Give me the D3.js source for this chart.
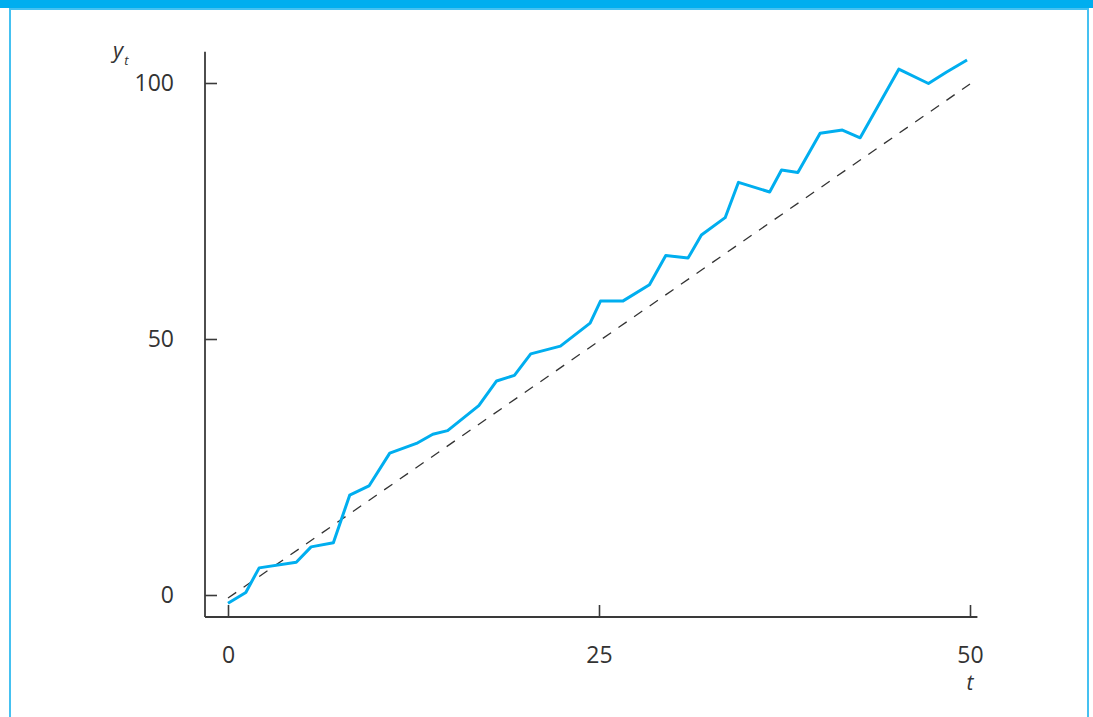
<!DOCTYPE html>
<meta charset="utf-8">
<script src="https://d3js.org/d3.v7.min.js"></script>
<style>
  body { margin: 0; background: #fff; }
  .tick text { font-family: "Open Sans", sans-serif; font-size: 23px; fill: #333; }
</style>
<div id="my_dataviz"></div>
<script>

// random walk with drift (vertices)
var tValues = [0, 1.2, 2.1, 4.6, 5.6, 7.1, 8.2, 9.5, 10.9, 12.7, 13.8, 14.8, 16.9, 18.1, 19.3, 20.4, 22.4, 24.4,
               25.1, 26.6, 28.4, 29.5, 31.0, 31.9, 33.5, 34.4, 36.5, 37.3, 38.4, 39.9, 41.4, 42.6, 45.2, 47.2, 48.4, 49.8];
var yValues = [-1.6, 0.5, 5.3, 6.4, 9.4, 10.2, 19.5, 21.3, 27.7, 29.6, 31.4, 32.1, 37.0, 41.8, 42.9, 47.1, 48.6, 53.1,
               57.4, 57.4, 60.6, 66.3, 65.8, 70.3, 73.7, 80.6, 78.7, 83.0, 82.5, 90.2, 90.8, 89.3, 102.7, 99.9, 102.1, 104.5];

// deterministic trend (dashed)
var trendT = [0, 50];
var trendY = [-0.6, 99.8];

var xTicks = [0, 25, 50];
var yTicks = [0, 50, 100];

// how far the axis lines run (data units)
var xAxisSpan = [-1.55, 50.5];
var yAxisSpan = [-4.3, 106.1];

var W = 1093, H = 717;

var svg = d3.select("#my_dataviz")
  .append("svg")
    .attr("width", W)
    .attr("height", H);

// blue frame of the figure box
svg.append("rect")
  .attr("x", 0).attr("y", 0)
  .attr("width", W).attr("height", 8)
  .attr("fill", "#00aeef");
svg.append("path")
  .attr("d", "M10,717V9H1088V717")
  .attr("fill", "none")
  .attr("stroke", "#45c1f1")
  .attr("stroke-width", 2);

var x = d3.scaleLinear().domain([0, 50]).range([228, 970]);
var y = d3.scaleLinear().domain([0, 100]).range([595, 83]);

var x0 = x(xAxisSpan[0]), y0 = y(yAxisSpan[0]);

// Y axis, ticks pointing inwards
var yAxis = svg.append("g")
  .attr("transform", "translate(" + x0 + ",0)")
  .call(d3.axisLeft(y).tickValues(yTicks).tickSize(-12).tickPadding(31));
// X axis, ticks pointing up
var xAxis = svg.append("g")
  .attr("transform", "translate(0," + y0 + ")")
  .call(d3.axisBottom(x).tickValues(xTicks).tickSize(-12).tickPadding(30));

svg.selectAll(".domain").remove();
svg.selectAll(".tick line").attr("stroke", "#3a3a3a").attr("stroke-width", 1.6);

// axis lines
svg.append("line")
  .attr("x1", x0).attr("x2", x0)
  .attr("y1", y(yAxisSpan[1])).attr("y2", y0)
  .attr("stroke", "#3a3a3a").attr("stroke-width", 1.8);
svg.append("line")
  .attr("x1", x0).attr("x2", x(xAxisSpan[1]))
  .attr("y1", y0).attr("y2", y0)
  .attr("stroke", "#3a3a3a").attr("stroke-width", 1.8);

// trend line
svg.append("path")
  .datum(d3.zip(trendT, trendY))
  .attr("fill", "none")
  .attr("stroke", "#333")
  .attr("stroke-width", 1.3)
  .attr("stroke-dasharray", "10,9")
  .attr("d", d3.line()
    .x(function(d) { return x(d[0]) })
    .y(function(d) { return y(d[1]) }));

// the series
svg.append("path")
  .datum(d3.zip(tValues, yValues))
  .attr("fill", "none")
  .attr("stroke", "#00aeef")
  .attr("stroke-width", 3)
  .attr("stroke-linejoin", "round")
  .attr("d", d3.line()
    .x(function(d) { return x(d[0]) })
    .y(function(d) { return y(d[1]) }));

// axis titles
var yl = svg.append("text")
  .attr("x", 113).attr("y", 58)
  .style("font-family", "'Open Sans', sans-serif")
  .style("font-style", "italic")
  .style("font-size", "22px")
  .attr("fill", "#333");
yl.append("tspan").text("y");
yl.append("tspan").attr("dx", 1).attr("dy", 7).style("font-size", "13px").text("t");

svg.append("text")
  .attr("x", x(50)).attr("y", 690)
  .attr("text-anchor", "middle")
  .style("font-family", "'Open Sans', sans-serif")
  .style("font-style", "italic")
  .style("font-size", "21px")
  .attr("fill", "#333")
  .text("t");

</script>
